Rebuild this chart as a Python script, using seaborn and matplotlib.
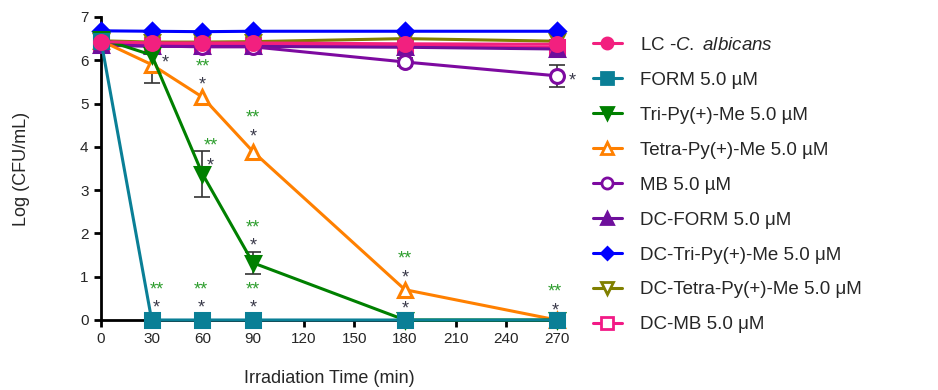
import numpy as np
import pandas as pd
import matplotlib
matplotlib.use("Agg")
import matplotlib.pyplot as plt
from matplotlib.lines import Line2D
import seaborn as sns

# ---- data ----
time = [0, 30, 60, 90, 180, 270]
lc = [6.43, 6.40, 6.40, 6.40, 6.38, 6.37]
form = [6.45, 0, 0, 0, 0, 0]
tri = [6.50, 6.12, 3.38, 1.32, 0, 0]
tetra = [6.45, 5.90, 5.15, 3.89, 0.70, 0]
mb = [6.40, 6.33, 6.31, 6.31, 5.96, 5.64]
dc_form = [6.35, 6.32, 6.32, 6.32, 6.30, 6.26]
dc_tri = [6.68, 6.67, 6.66, 6.67, 6.67, 6.67]
dc_tetra = [6.45, 6.42, 6.42, 6.43, 6.50, 6.44]
dc_mb = [6.38, 6.35, 6.35, 6.35, 6.33, 6.30]

tri_sd = [0, 0, 0.53, 0.25, 0, 0]
tetra_sd = [0, 0.42, 0, 0, 0, 0]
mb_sd = [0, 0, 0, 0, 0.10, 0.25]

labels = ["LC -$\\it{C.\\ albicans}$", "FORM 5.0 µM", "Tri-Py(+)-Me 5.0 µM",
          "Tetra-Py(+)-Me 5.0 µM", "MB 5.0 µM", "DC-FORM 5.0 μM",
          "DC-Tri-Py(+)-Me 5.0 μM", "DC-Tetra-Py(+)-Me 5.0 μM", "DC-MB 5.0 μM"]
series = [lc, form, tri, tetra, mb, dc_form, dc_tri, dc_tetra, dc_mb]
colors = ["#F2207F", "#0A7F96", "#008000", "#FF8000", "#7D0AA0",
          "#6E0F9C", "#0000FF", "#808000", "#F21A86"]
markers = ["o", "s", "v", "^", "o", "^", "D", "v", "s"]
filled = [True, True, True, False, False, True, True, False, False]

# significance annotations: x (min), y (log), text
ann_x = [38, 60, 60, 65, 64.5, 90, 90, 90, 90, 33, 32.5, 59, 59.6, 90, 90,
         180, 180, 180, 269, 269, 279]
ann_y = [5.93, 5.84, 5.42, 4.02, 3.56, 4.66, 4.23, 2.12, 1.70, 0.70, 0.28,
         0.70, 0.28, 0.70, 0.28, 1.40, 0.98, 0.25, 0.64, 0.21, 5.52]
ann_t = ["*", "**", "*", "**", "*", "**", "*", "**", "*", "**", "*", "**", "*",
         "**", "*", "**", "*", "*", "**", "*", "*"]

sns.set_style("ticks")
plt.rcParams['font.family'] = ['Liberation Sans', 'DejaVu Sans']
plt.rcParams['mathtext.fontset'] = 'custom'
plt.rcParams['mathtext.it'] = 'Liberation Sans:italic'
plt.rcParams['mathtext.rm'] = 'Liberation Sans'

fig = plt.figure(figsize=(9.38, 3.9), dpi=100)
ax = fig.add_axes([0.1077, 0.1795, 0.486, 0.777])

n = len(series)
for i, (lab, vals, c, m, f) in enumerate(zip(labels, series, colors, markers, filled)):
    df = pd.DataFrame({"t": time, "v": vals})
    z = 10 + (n - i)
    sns.lineplot(data=df, x="t", y="v", ax=ax, color=c, lw=2.2, marker=m,
                 markersize=10 if m != "D" else 8,
                 markerfacecolor=c if f else "white", markeredgecolor=c,
                 markeredgewidth=2.2, zorder=z, clip_on=False, label=lab,
                 legend=False)

for vals, sd in [(tri, tri_sd), (tetra, tetra_sd), (mb, mb_sd)]:
    t = np.array(time, float)
    v = np.array(vals, float)
    s = np.array(sd, float)
    msk = s > 0
    ax.errorbar(t[msk], v[msk], yerr=s[msk], fmt="none", ecolor="#333333",
                elinewidth=1.2, capsize=6, capthick=1.2, zorder=9, clip_on=False)

for x, y, t in zip(ann_x, ann_y, ann_t):
    col = "#2E9E2E" if t == "**" else "#3A3A4A"
    ax.text(x, y, t, color=col, fontsize=13, ha="center", va="center", zorder=30)

ax.set_xlim(0, 270)
ax.set_ylim(0, 7)
ax.set_xticks(range(0, 271, 30))
ax.set_yticks(range(0, 8))
ax.set_xlabel("Irradiation Time (min)", fontsize=13, labelpad=17)
ax.set_ylabel("Log (CFU/mL)", fontsize=13, labelpad=36)
ax.tick_params(axis="both", width=2, length=5, labelsize=11, color="black", pad=4)
for sp in ["left", "bottom"]:
    ax.spines[sp].set_linewidth(2)
    ax.spines[sp].set_color("black")
sns.despine(ax=ax)

hs = [Line2D([], [], color=c, lw=2.2, marker=m, markersize=8 if m != "D" else 6,
             markerfacecolor=c if f else "white", markeredgecolor=c, markeredgewidth=2)
      for c, m, f in zip(colors, markers, filled)]
fig.legend(hs, labels, loc="upper left", bbox_to_anchor=(0.624, 0.925),
           frameon=False, fontsize=13.5, handlelength=1.55, handletextpad=0.96,
           labelspacing=0.95, borderaxespad=0)

fig.savefig("out.png", dpi=100)
